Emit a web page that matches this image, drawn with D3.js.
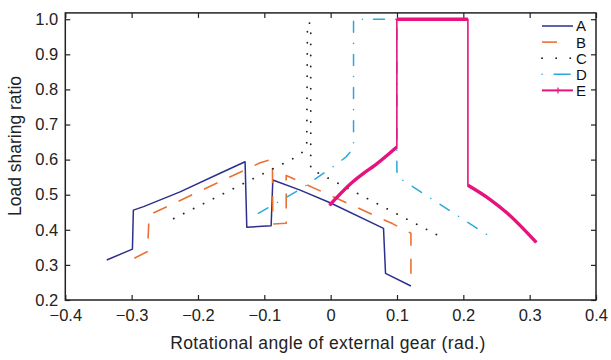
<!DOCTYPE html>
<html>
<head>
<meta charset="utf-8">
<script src="https://cdn.jsdelivr.net/npm/d3@7"></script>
<style>
  body { margin: 0; background: #fff; }
  svg { font-family: 'Liberation Sans', Arial, sans-serif; }
  .tick text { font-size: 16.5px; fill: #222; }
  .tick line { stroke: #222; stroke-width: 1.2; }
</style>
</head>
<body>
<svg id="chart" width="611" height="360"></svg>
<script>
// values: [angle (rad.), load sharing ratio]
const seriesA = [[-0.3375, 0.314], [-0.2988, 0.345], [-0.2974, 0.456], [-0.282, 0.466], [-0.227, 0.508],
  [-0.1667, 0.561], [-0.129, 0.594], [-0.1264, 0.407], [-0.0897, 0.4117], [-0.0872, 0.542],
  [-0.046, 0.513], [-0.0008, 0.477], [0.0797, 0.404], [0.0827, 0.276], [0.121, 0.240]]
const seriesB = [[-0.296, 0.319], [-0.276, 0.338], [-0.2737, 0.442], [-0.1063, 0.591], [-0.0878, 0.601],
  [-0.0872, 0.4165], [-0.067, 0.4185], [-0.067, 0.555], [0.0938, 0.417], [0.116, 0.395],
  [0.121, 0.39], [0.121, 0.265]]
const seriesC = [[-0.2365, 0.432], [-0.0576, 0.602], [-0.042, 0.622], [-0.036, 0.645], [-0.035, 0.99],
  [-0.03, 0.988], [-0.03, 0.573], [-0.0148, 0.558], [0.163, 0.383]]
const seriesD = [[-0.109, 0.447], [-0.0434, 0.518], [0.0053, 0.582], [0.0234, 0.608], [0.0345, 0.633],
  [0.0345, 1.0], [0.0998, 1.0], [0.0998, 0.57], [0.1007, 0.551], [0.244, 0.376]]
const seriesE = [[-0.0018, 0.470], [0.0335, 0.537], [0.0495, 0.561], [0.066, 0.583], [0.0998, 0.636],
  [0.0998, 1.0], [0.2069, 1.0], [0.2069, 0.527], [0.24, 0.487], [0.266, 0.448], [0.31, 0.364]]

const names = ['A', 'B', 'C', 'D', 'E']
const xTicks = [-0.4, -0.3, -0.2, -0.1, 0, 0.1, 0.2, 0.3, 0.4]
const yTicks = [0.2, 0.3, 0.4, 0.5, 0.6, 0.7, 0.8, 0.9, 1.0]

const allSeries = { A: seriesA, B: seriesB, C: seriesC, D: seriesD, E: seriesE }
const style = {
  A: { color: '#2d2f8e', width: 1.5, dash: null, legendDash: null, cap: 'butt' },
  B: { color: '#ec7033', width: 1.6, dash: '15,13', legendDash: '15,40', cap: 'butt' },
  C: { color: '#222', width: 1.8, dash: '0.1,11', legendDash: '0.1,14', cap: 'round' },
  D: { color: '#2aa8dc', width: 1.5, dash: '11,11,0.1,11', legendDash: '0.1,12,16,40', cap: 'round' },
  E: { color: '#e6137f', width: 1.6, dash: null, legendDash: null, cap: 'butt' }
}

let svg = d3.select('#chart')
let x = d3.scaleLinear().domain([-0.4, 0.4]).range([65.3, 596])
let y = d3.scaleLinear().domain([0.2, 1.018]).range([300, 12.9])
let fx = d3.format('.1f')

let line = d3.line().x(d => x(d[0])).y(d => y(d[1]))
let smooth = d3.line().x(d => x(d[0])).y(d => y(d[1])).curve(d3.curveMonotoneX)

// axes with inward ticks on all four sides
svg.append('g')
  .attr('transform', `translate(0,${y.range()[0]})`)
  .call(d3.axisBottom(x).tickValues(xTicks).tickSizeInner(-5).tickSizeOuter(0).tickPadding(9)
    .tickFormat(d => d === 0 ? '0' : fx(d)))
svg.append('g')
  .attr('transform', `translate(0,${y.range()[1]})`)
  .call(d3.axisTop(x).tickValues(xTicks).tickSizeInner(-5).tickSizeOuter(0).tickFormat(''))
svg.append('g')
  .attr('transform', `translate(${x.range()[0]},0)`)
  .call(d3.axisLeft(y).tickValues(yTicks).tickSizeInner(-5).tickSizeOuter(0).tickPadding(7).tickFormat(fx))
svg.append('g')
  .attr('transform', `translate(${x.range()[1]},0)`)
  .call(d3.axisRight(y).tickValues(yTicks).tickSizeInner(-5).tickSizeOuter(0).tickFormat(''))
svg.selectAll('.domain').remove()

svg.append('rect')
  .attr('x', x.range()[0]).attr('y', y.range()[1])
  .attr('width', x.range()[1] - x.range()[0])
  .attr('height', y.range()[0] - y.range()[1])
  .attr('fill', 'none').attr('stroke', '#222').attr('stroke-width', 1.5)

// series
let plot = svg.append('g')
names.forEach(n => {
  let s = style[n]
  plot.append('path')
    .datum(allSeries[n])
    .attr('d', line)
    .attr('fill', 'none')
    .attr('stroke', s.color)
    .attr('stroke-width', s.width)
    .attr('stroke-linejoin', 'round')
    .attr('stroke-linecap', s.cap)
    .attr('stroke-dasharray', s.dash)
})

// E: the non-vertical runs are drawn thick (dense markers in the original)
let runs = []
let cur = null
d3.pairs(seriesE).forEach(([p, q]) => {
  if (p[0] !== q[0]) {
    if (!cur) { cur = [p]; runs.push(cur) }
    cur.push(q)
  } else cur = null
})
plot.selectAll('.thick')
  .data(runs)
  .enter()
  .append('path')
  .attr('class', 'thick')
  .attr('d', smooth)
  .attr('fill', 'none')
  .attr('stroke', style.E.color)
  .attr('stroke-width', 3.4)
  .attr('stroke-linejoin', 'round')

// legend
let legend = svg.append('g').attr('transform', 'translate(542,26)')
let item = legend.selectAll('g')
  .data(names)
  .enter()
  .append('g')
  .attr('transform', (d, i) => `translate(0,${i * 16.1})`)
item.append('line')
  .attr('x1', 0).attr('x2', 31)
  .attr('stroke', d => style[d].color)
  .attr('stroke-width', d => d === 'E' ? 2 : style[d].width)
  .attr('stroke-linecap', d => style[d].cap)
  .attr('stroke-dasharray', d => style[d].legendDash)
item.filter(d => d === 'E')
  .append('line')
  .attr('x1', 16).attr('x2', 16).attr('y1', -3).attr('y2', 3)
  .attr('stroke', style.E.color).attr('stroke-width', 1.2)
item.append('text')
  .attr('x', 34).attr('dy', '0.36em')
  .attr('font-size', 15)
  .attr('fill', '#111')
  .text(d => d)

// axis titles
svg.append('text')
  .attr('x', 328).attr('y', 349)
  .attr('text-anchor', 'middle')
  .attr('font-size', 17.5)
  .attr('letter-spacing', 0.4)
  .attr('fill', '#222')
  .text('Rotational angle of external gear (rad.)')
svg.append('text')
  .attr('transform', 'translate(21,146) rotate(-90)')
  .attr('text-anchor', 'middle')
  .attr('font-size', 17.5)
  .attr('fill', '#222')
  .text('Load sharing ratio')
</script>
</body>
</html>
